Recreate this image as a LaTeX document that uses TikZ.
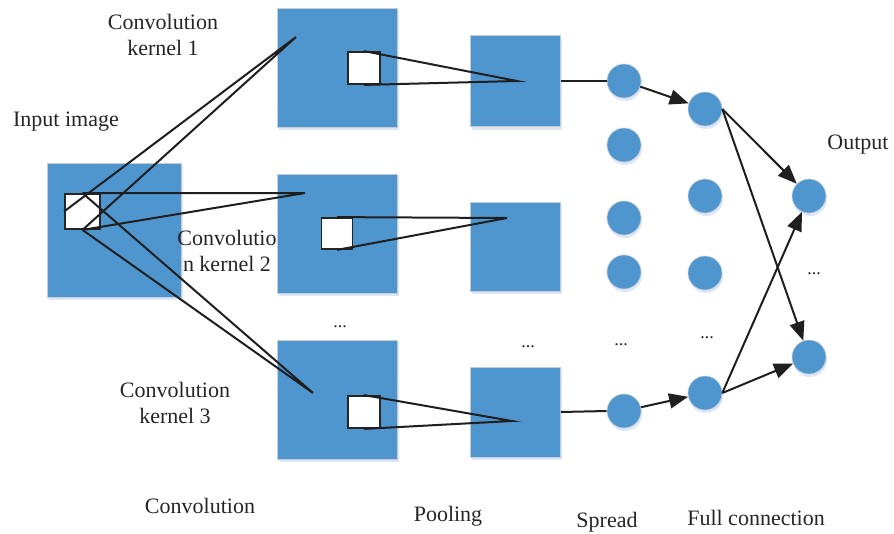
\documentclass[tikz,border=0pt]{standalone}
\usepackage{fontspec}
\setmainfont{Liberation Serif}
\usetikzlibrary{arrows.meta,shadows}
\definecolor{boxblue}{RGB}{79,150,207}
\definecolor{boxedge}{RGB}{195,205,218}
\definecolor{shadowblue}{RGB}{215,226,245}
\begin{document}
\begin{tikzpicture}[x=1pt,y=-1pt,
  blk/.style={rectangle, fill=boxblue, draw=boxedge, line width=0.8pt, inner sep=0pt,
    drop shadow={shadow xshift=1.5pt, shadow yshift=-3pt, fill=shadowblue, opacity=0.8}},
  kern/.style={rectangle, fill=white, draw=black!85, line width=1.8pt, inner sep=0pt},
  neuron/.style={circle, fill=boxblue, draw=boxedge, line width=0.6pt, minimum size=34pt, inner sep=0pt,
    drop shadow={shadow xshift=1pt, shadow yshift=-3pt, fill=shadowblue, opacity=0.8}},
  lbl/.style={font=\fontsize{22}{26}\selectfont, align=center, inner sep=0pt, text=black!85},
  ell/.style={font=\fontsize{18}{20}\selectfont, inner sep=0pt, anchor=base, text=black!85},
  ln/.style={line width=2pt, draw=black!88},
  arr/.style={ln, -{Triangle[length=19pt,width=15pt]}}
]
\useasboundingbox (0,0) rectangle (894,533);
\fill[white] (0,0) rectangle (894,533);

% input image
\node[blk, minimum width=134pt, minimum height=134pt] (in) at (114,230) {};
\node[kern, minimum size=35pt] (k0) at (82.5,211.5) {};

% convolution layer
\node[blk, minimum width=120pt, minimum height=119pt] (c1) at (337,67.5) {};
\node[blk, minimum width=120pt, minimum height=119pt] (c2) at (337,233.5) {};
\node[blk, minimum width=120pt, minimum height=119pt] (c3) at (337,399.5) {};
\node[kern, minimum size=32pt] (kc1) at (364,68) {};
\node[kern, minimum size=31pt] (kc2) at (337,233.5) {};
\node[kern, minimum size=32pt] (kc3) at (364,412) {};

% pooling layer
\node[blk, minimum width=90pt, minimum height=91pt] (pl1) at (515.5,81) {};
\node[blk, minimum width=90pt, minimum height=89pt] (pl2) at (515.5,246.5) {};
\node[blk, minimum width=90pt, minimum height=90pt] (pl3) at (515.5,412) {};

% spread
\node[neuron] (s1) at (624,81) {};
\node[neuron] (s2) at (624,145) {};
\node[neuron] (s3) at (624,218) {};
\node[neuron] (s4) at (624,272) {};
\node[neuron] (s5) at (624,411) {};

% full connection
\node[neuron] (f1) at (705,109) {};
\node[neuron] (f2) at (705,196) {};
\node[neuron] (f3) at (705,273) {};
\node[neuron] (f4) at (705,393) {};

% output
\node[neuron] (o1) at (809,196) {};
\node[neuron] (o2) at (809,357) {};

% target points
\coordinate (p1) at (296,37);
\coordinate (p2) at (305,193);
\coordinate (p3) at (313,393);
\coordinate (q1) at (517,81);
\coordinate (q2) at (507,218);
\coordinate (q3) at (512,421);

% kernel lines from input
\draw[ln] (k0.west) -- (p1) -- (k0.south);
\draw[ln] (k0.north) -- (p2) -- (k0.south);
\draw[ln] (k0.north) -- (p3) -- (k0.south);

% kernel lines to pooling
\draw[ln] (kc1.north) -- (q1) -- (kc1.south);
\draw[ln] (kc2.north) -- (q2) -- (kc2.south);
\draw[ln] (kc3.north) -- (q3) -- (kc3.south);

% pooling to spread
\draw[ln] (pl1.east) -- (s1.west);
\draw[ln] (pl3.east) -- (s5.west);

% arrows
\draw[arr] (s1) -- (f1);
\draw[arr] (s5) -- (f4);
\draw[arr] (f1.east) -- (o1);
\draw[arr] (f1.east) -- (o2);
\draw[arr] (f4.east) -- (o1);
\draw[arr] (f4.east) -- (o2);

% labels
\node[lbl] (tk1) at (163,35) {Convolution\\kernel 1};
\node[lbl] (tin) at (66,122) {Input image};
\node[lbl] (tk2) at (227,251) {Convolutio\\n kernel 2};
\node[lbl] (tk3) at (175,403) {Convolution\\kernel 3};
\node[lbl] (tconv) at (200,506) {Convolution};
\node[lbl] (tpool) at (448,516) {Pooling};
\node[lbl] (tspread) at (607,522) {Spread};
\node[lbl] (tfull) at (756,518) {Full connection};
\node[lbl] (tout) at (858,145) {Output};

% ellipses
\node[ell] (d1) at (340,327) {...};
\node[ell] (d2) at (528,347) {...};
\node[ell] (d3) at (621,345) {...};
\node[ell] (d4) at (707,338) {...};
\node[ell] (d5) at (814,274) {...};
\end{tikzpicture}
\end{document}
